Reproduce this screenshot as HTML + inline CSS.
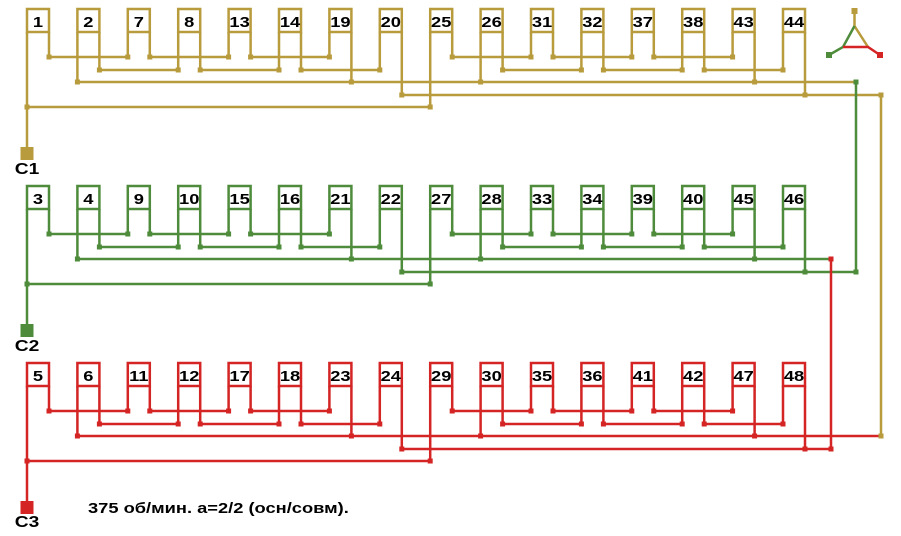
<!DOCTYPE html>
<html><head><meta charset="utf-8"><style>
html,body{margin:0;padding:0;background:#fff;}
svg{display:block;}
.n{font-family:"Liberation Sans",Arial,sans-serif;font-weight:bold;font-size:15px;fill:#000;text-anchor:middle;}
.c{font-family:"Liberation Sans",Arial,sans-serif;font-weight:bold;font-size:16px;fill:#000;text-anchor:middle;}
.t{font-family:"Liberation Sans",Arial,sans-serif;font-weight:bold;font-size:15px;fill:#000;}
</style></head><body>
<svg width="901" height="536" viewBox="0 0 901 536" xmlns="http://www.w3.org/2000/svg">
<rect width="901" height="536" fill="#fff"/>

<!-- ROW 1 (tan) -->
<g style="color:#b89b3c">
<g stroke="currentColor" stroke-width="2.5" fill="#fff">
<rect x="27" y="9" width="22" height="23"/><rect x="77.4" y="9" width="22" height="23"/><rect x="127.8" y="9" width="22" height="23"/><rect x="178.2" y="9" width="22" height="23"/><rect x="228.6" y="9" width="22" height="23"/><rect x="279" y="9" width="22" height="23"/><rect x="329.4" y="9" width="22" height="23"/><rect x="379.8" y="9" width="22" height="23"/><rect x="430.2" y="9" width="22" height="23"/><rect x="480.6" y="9" width="22" height="23"/><rect x="531" y="9" width="22" height="23"/><rect x="581.4" y="9" width="22" height="23"/><rect x="631.8" y="9" width="22" height="23"/><rect x="682.2" y="9" width="22" height="23"/><rect x="732.6" y="9" width="22" height="23"/><rect x="783" y="9" width="22" height="23"/>
</g>
<path stroke="currentColor" stroke-width="2.5" fill="none" d="M27 32V147M49 32V57M77.4 32V82M99.4 32V70M127.8 32V57M149.8 32V57M178.2 32V70M200.2 32V70M228.6 32V57M250.6 32V57M279 32V70M301 32V70M329.4 32V57M351.4 32V82M379.8 32V70M401.8 32V95M430.2 32V107M452.2 32V57M480.6 32V82M502.6 32V70M531 32V57M553 32V57M581.4 32V70M603.4 32V70M631.8 32V57M653.8 32V57M682.2 32V70M704.2 32V70M732.6 32V57M754.6 32V82M783 32V70M805 32V95
M49 57H127.8M149.8 57H228.6M250.6 57H329.4M452.2 57H531M553 57H631.8M653.8 57H732.6
M99.4 70H178.2M200.2 70H279M301 70H379.8M502.6 70H581.4M603.4 70H682.2M704.2 70H783
M27 107H430.2"/>
<path fill="currentColor" d="M46.5 54.5h5v5h-5zM125.3 54.5h5v5h-5zM147.3 54.5h5v5h-5zM226.1 54.5h5v5h-5zM248.1 54.5h5v5h-5zM326.9 54.5h5v5h-5zM449.7 54.5h5v5h-5zM528.5 54.5h5v5h-5zM550.5 54.5h5v5h-5zM629.3 54.5h5v5h-5zM651.3 54.5h5v5h-5zM730.1 54.5h5v5h-5z
M96.9 67.5h5v5h-5zM175.7 67.5h5v5h-5zM197.7 67.5h5v5h-5zM276.5 67.5h5v5h-5zM298.5 67.5h5v5h-5zM377.3 67.5h5v5h-5zM500.1 67.5h5v5h-5zM578.9 67.5h5v5h-5zM600.9 67.5h5v5h-5zM679.7 67.5h5v5h-5zM701.7 67.5h5v5h-5zM780.5 67.5h5v5h-5z
M74.9 79.5h5v5h-5zM348.9 79.5h5v5h-5zM478.1 79.5h5v5h-5zM752.1 79.5h5v5h-5z
M399.3 92.5h5v5h-5zM802.5 92.5h5v5h-5z
M24.5 104.5h5v5h-5zM427.7 104.5h5v5h-5z
M20.5 147h13v13h-13z"/>
</g>

<!-- ROW 2 (green) -->
<g style="color:#4e8c3c" transform="translate(0,177)">
<g stroke="currentColor" stroke-width="2.5" fill="#fff">
<rect x="27" y="9" width="22" height="23"/><rect x="77.4" y="9" width="22" height="23"/><rect x="127.8" y="9" width="22" height="23"/><rect x="178.2" y="9" width="22" height="23"/><rect x="228.6" y="9" width="22" height="23"/><rect x="279" y="9" width="22" height="23"/><rect x="329.4" y="9" width="22" height="23"/><rect x="379.8" y="9" width="22" height="23"/><rect x="430.2" y="9" width="22" height="23"/><rect x="480.6" y="9" width="22" height="23"/><rect x="531" y="9" width="22" height="23"/><rect x="581.4" y="9" width="22" height="23"/><rect x="631.8" y="9" width="22" height="23"/><rect x="682.2" y="9" width="22" height="23"/><rect x="732.6" y="9" width="22" height="23"/><rect x="783" y="9" width="22" height="23"/>
</g>
<path stroke="currentColor" stroke-width="2.5" fill="none" d="M27 32V147M49 32V57M77.4 32V82M99.4 32V70M127.8 32V57M149.8 32V57M178.2 32V70M200.2 32V70M228.6 32V57M250.6 32V57M279 32V70M301 32V70M329.4 32V57M351.4 32V82M379.8 32V70M401.8 32V95M430.2 32V107M452.2 32V57M480.6 32V82M502.6 32V70M531 32V57M553 32V57M581.4 32V70M603.4 32V70M631.8 32V57M653.8 32V57M682.2 32V70M704.2 32V70M732.6 32V57M754.6 32V82M783 32V70M805 32V95
M49 57H127.8M149.8 57H228.6M250.6 57H329.4M452.2 57H531M553 57H631.8M653.8 57H732.6
M99.4 70H178.2M200.2 70H279M301 70H379.8M502.6 70H581.4M603.4 70H682.2M704.2 70H783
M27 107H430.2"/>
<path fill="currentColor" d="M46.5 54.5h5v5h-5zM125.3 54.5h5v5h-5zM147.3 54.5h5v5h-5zM226.1 54.5h5v5h-5zM248.1 54.5h5v5h-5zM326.9 54.5h5v5h-5zM449.7 54.5h5v5h-5zM528.5 54.5h5v5h-5zM550.5 54.5h5v5h-5zM629.3 54.5h5v5h-5zM651.3 54.5h5v5h-5zM730.1 54.5h5v5h-5z
M96.9 67.5h5v5h-5zM175.7 67.5h5v5h-5zM197.7 67.5h5v5h-5zM276.5 67.5h5v5h-5zM298.5 67.5h5v5h-5zM377.3 67.5h5v5h-5zM500.1 67.5h5v5h-5zM578.9 67.5h5v5h-5zM600.9 67.5h5v5h-5zM679.7 67.5h5v5h-5zM701.7 67.5h5v5h-5zM780.5 67.5h5v5h-5z
M74.9 79.5h5v5h-5zM348.9 79.5h5v5h-5zM478.1 79.5h5v5h-5zM752.1 79.5h5v5h-5z
M399.3 92.5h5v5h-5zM802.5 92.5h5v5h-5z
M24.5 104.5h5v5h-5zM427.7 104.5h5v5h-5z
M20.5 147h13v13h-13z"/>
</g>

<!-- ROW 3 (red) -->
<g style="color:#d42424" transform="translate(0,354)">
<g stroke="currentColor" stroke-width="2.5" fill="#fff">
<rect x="27" y="9" width="22" height="23"/><rect x="77.4" y="9" width="22" height="23"/><rect x="127.8" y="9" width="22" height="23"/><rect x="178.2" y="9" width="22" height="23"/><rect x="228.6" y="9" width="22" height="23"/><rect x="279" y="9" width="22" height="23"/><rect x="329.4" y="9" width="22" height="23"/><rect x="379.8" y="9" width="22" height="23"/><rect x="430.2" y="9" width="22" height="23"/><rect x="480.6" y="9" width="22" height="23"/><rect x="531" y="9" width="22" height="23"/><rect x="581.4" y="9" width="22" height="23"/><rect x="631.8" y="9" width="22" height="23"/><rect x="682.2" y="9" width="22" height="23"/><rect x="732.6" y="9" width="22" height="23"/><rect x="783" y="9" width="22" height="23"/>
</g>
<path stroke="currentColor" stroke-width="2.5" fill="none" d="M27 32V147M49 32V57M77.4 32V82M99.4 32V70M127.8 32V57M149.8 32V57M178.2 32V70M200.2 32V70M228.6 32V57M250.6 32V57M279 32V70M301 32V70M329.4 32V57M351.4 32V82M379.8 32V70M401.8 32V95M430.2 32V107M452.2 32V57M480.6 32V82M502.6 32V70M531 32V57M553 32V57M581.4 32V70M603.4 32V70M631.8 32V57M653.8 32V57M682.2 32V70M704.2 32V70M732.6 32V57M754.6 32V82M783 32V70M805 32V95
M49 57H127.8M149.8 57H228.6M250.6 57H329.4M452.2 57H531M553 57H631.8M653.8 57H732.6
M99.4 70H178.2M200.2 70H279M301 70H379.8M502.6 70H581.4M603.4 70H682.2M704.2 70H783
M27 107H430.2"/>
<path fill="currentColor" d="M46.5 54.5h5v5h-5zM125.3 54.5h5v5h-5zM147.3 54.5h5v5h-5zM226.1 54.5h5v5h-5zM248.1 54.5h5v5h-5zM326.9 54.5h5v5h-5zM449.7 54.5h5v5h-5zM528.5 54.5h5v5h-5zM550.5 54.5h5v5h-5zM629.3 54.5h5v5h-5zM651.3 54.5h5v5h-5zM730.1 54.5h5v5h-5z
M96.9 67.5h5v5h-5zM175.7 67.5h5v5h-5zM197.7 67.5h5v5h-5zM276.5 67.5h5v5h-5zM298.5 67.5h5v5h-5zM377.3 67.5h5v5h-5zM500.1 67.5h5v5h-5zM578.9 67.5h5v5h-5zM600.9 67.5h5v5h-5zM679.7 67.5h5v5h-5zM701.7 67.5h5v5h-5zM780.5 67.5h5v5h-5z
M74.9 79.5h5v5h-5zM348.9 79.5h5v5h-5zM478.1 79.5h5v5h-5zM752.1 79.5h5v5h-5z
M399.3 92.5h5v5h-5zM802.5 92.5h5v5h-5z
M24.5 104.5h5v5h-5zM427.7 104.5h5v5h-5z
M20.5 147h13v13h-13z"/>
</g>

<!-- long bus lines -->
<path stroke="#b89b3c" stroke-width="2.5" fill="none" d="M77.4 82H856M401.8 95H881"/>
<path stroke="#4e8c3c" stroke-width="2.5" fill="none" d="M77.4 259H831M401.8 272H856"/>
<path stroke="#d42424" stroke-width="2.5" fill="none" d="M77.4 436H881M401.8 449H831"/>
<path stroke="#4e8c3c" stroke-width="2.5" fill="none" d="M856 82V272"/>
<path stroke="#d42424" stroke-width="2.5" fill="none" d="M831 259V449"/>
<path stroke="#b89b3c" stroke-width="2.5" fill="none" d="M881 95V436"/>
<path fill="#4e8c3c" d="M853.5 79.5h5v5h-5zM853.5 269.5h5v5h-5z"/>
<path fill="#d42424" d="M828.5 256.5h5v5h-5zM828.5 446.5h5v5h-5z"/>
<path fill="#b89b3c" d="M878.5 92.5h5v5h-5zM878.5 433.5h5v5h-5z"/>

<!-- star symbol -->
<path stroke="#b89b3c" stroke-width="2.5" fill="none" d="M854.5 11V26L868 47"/>
<path stroke="#4e8c3c" stroke-width="2.5" fill="none" d="M854.5 26L843 47L829 55"/>
<path stroke="#d42424" stroke-width="2.5" fill="none" d="M843 47H868L880 55"/>
<rect x="851.5" y="8" width="6" height="6" fill="#b89b3c"/>
<rect x="826" y="52" width="6" height="6" fill="#4e8c3c"/>
<rect x="877" y="52" width="6" height="6" fill="#d42424"/>

<!-- labels row 1 -->
<text class="n" transform="translate(38,27) scale(1.22,1)">1</text>
<text class="n" transform="translate(88.4,27) scale(1.22,1)">2</text>
<text class="n" transform="translate(138.8,27) scale(1.22,1)">7</text>
<text class="n" transform="translate(189.2,27) scale(1.22,1)">8</text>
<text class="n" transform="translate(239.6,27) scale(1.22,1)">13</text>
<text class="n" transform="translate(290,27) scale(1.22,1)">14</text>
<text class="n" transform="translate(340.4,27) scale(1.22,1)">19</text>
<text class="n" transform="translate(390.8,27) scale(1.22,1)">20</text>
<text class="n" transform="translate(441.2,27) scale(1.22,1)">25</text>
<text class="n" transform="translate(491.6,27) scale(1.22,1)">26</text>
<text class="n" transform="translate(542,27) scale(1.22,1)">31</text>
<text class="n" transform="translate(592.4,27) scale(1.22,1)">32</text>
<text class="n" transform="translate(642.8,27) scale(1.22,1)">37</text>
<text class="n" transform="translate(693.2,27) scale(1.22,1)">38</text>
<text class="n" transform="translate(743.6,27) scale(1.22,1)">43</text>
<text class="n" transform="translate(794,27) scale(1.22,1)">44</text>

<!-- labels row 2 -->
<text class="n" transform="translate(38,204) scale(1.22,1)">3</text>
<text class="n" transform="translate(88.4,204) scale(1.22,1)">4</text>
<text class="n" transform="translate(138.8,204) scale(1.22,1)">9</text>
<text class="n" transform="translate(189.2,204) scale(1.22,1)">10</text>
<text class="n" transform="translate(239.6,204) scale(1.22,1)">15</text>
<text class="n" transform="translate(290,204) scale(1.22,1)">16</text>
<text class="n" transform="translate(340.4,204) scale(1.22,1)">21</text>
<text class="n" transform="translate(390.8,204) scale(1.22,1)">22</text>
<text class="n" transform="translate(441.2,204) scale(1.22,1)">27</text>
<text class="n" transform="translate(491.6,204) scale(1.22,1)">28</text>
<text class="n" transform="translate(542,204) scale(1.22,1)">33</text>
<text class="n" transform="translate(592.4,204) scale(1.22,1)">34</text>
<text class="n" transform="translate(642.8,204) scale(1.22,1)">39</text>
<text class="n" transform="translate(693.2,204) scale(1.22,1)">40</text>
<text class="n" transform="translate(743.6,204) scale(1.22,1)">45</text>
<text class="n" transform="translate(794,204) scale(1.22,1)">46</text>

<!-- labels row 3 -->
<text class="n" transform="translate(38,381) scale(1.22,1)">5</text>
<text class="n" transform="translate(88.4,381) scale(1.22,1)">6</text>
<text class="n" transform="translate(138.8,381) scale(1.22,1)">11</text>
<text class="n" transform="translate(189.2,381) scale(1.22,1)">12</text>
<text class="n" transform="translate(239.6,381) scale(1.22,1)">17</text>
<text class="n" transform="translate(290,381) scale(1.22,1)">18</text>
<text class="n" transform="translate(340.4,381) scale(1.22,1)">23</text>
<text class="n" transform="translate(390.8,381) scale(1.22,1)">24</text>
<text class="n" transform="translate(441.2,381) scale(1.22,1)">29</text>
<text class="n" transform="translate(491.6,381) scale(1.22,1)">30</text>
<text class="n" transform="translate(542,381) scale(1.22,1)">35</text>
<text class="n" transform="translate(592.4,381) scale(1.22,1)">36</text>
<text class="n" transform="translate(642.8,381) scale(1.22,1)">41</text>
<text class="n" transform="translate(693.2,381) scale(1.22,1)">42</text>
<text class="n" transform="translate(743.6,381) scale(1.22,1)">47</text>
<text class="n" transform="translate(794,381) scale(1.22,1)">48</text>

<!-- terminal labels -->
<text class="c" transform="translate(27,174) scale(1.2,1)">С1</text>
<text class="c" transform="translate(27,351) scale(1.2,1)">С2</text>
<text class="c" transform="translate(27,527) scale(1.2,1)">С3</text>

<text class="t" transform="translate(88,513) scale(1.22,1)">375 об/мин. а=2/2 (осн/совм).</text>
</svg>
</body></html>
